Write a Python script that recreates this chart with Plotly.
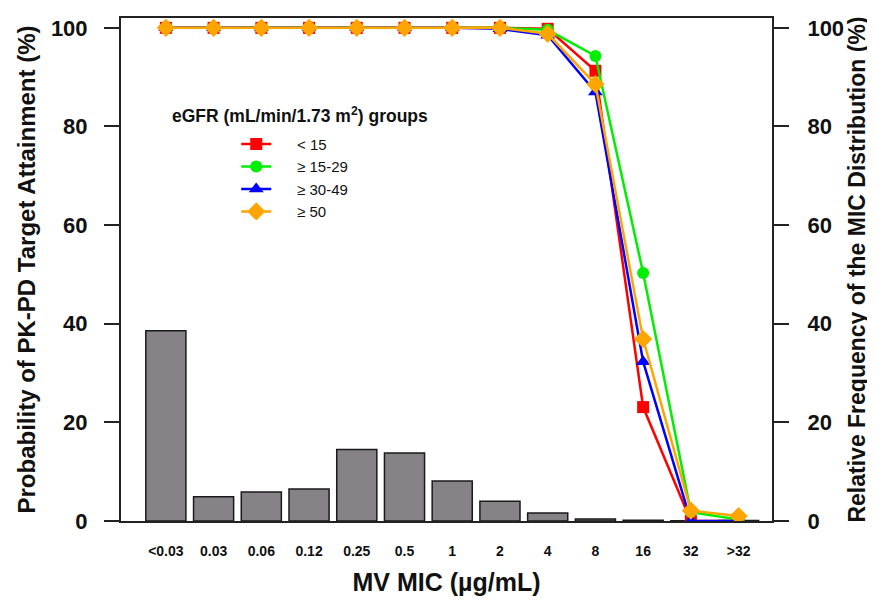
import plotly.graph_objects as go

# ---- data ----
mic_labels = ["<0.03", "0.03", "0.06", "0.12", "0.25", "0.5", "1", "2", "4", "8", "16", "32", ">32"]
mic_freq = [38.6, 4.9, 5.9, 6.5, 14.5, 13.8, 8.1, 4.0, 1.6, 0.4, 0.15, 0.05, 0.1]

group_names = ["< 15", "≥ 15-29", "≥ 30-49", "≥ 50"]
pta_lt15 = [100, 100, 100, 100, 100, 100, 100, 100, 99.8, 91.3, 23.1, 0.0, 0.0]
pta_15_29 = [100, 100, 100, 100, 100, 100, 100, 100, 99.6, 94.3, 50.3, 1.8, 0.3]
pta_30_49 = [100, 100, 100, 100, 100, 100, 100, 99.8, 98.5, 87.0, 32.3, 0.0, 0.0]
pta_ge50 = [100, 100, 100, 100, 100, 100, 100, 100, 98.8, 88.6, 36.9, 2.1, 1.0]

colors = ["#FF0000", "#00EE00", "#0000FF", "#FFA500"]
symbols = ["square", "circle", "triangle-up", "diamond"]
sizes = [12, 12, 13, 14]

FONT = "Liberation Sans, Arial, Helvetica, sans-serif"
INK = "#111"

fig = go.Figure()

# MIC distribution bars -> right axis (yaxis, drawn underneath)
fig.add_trace(go.Bar(
    x=mic_labels, y=mic_freq, width=0.84, yaxis="y",
    marker=dict(color="rgb(133,131,134)", line=dict(color="#1a1a1a", width=1.5)),
    showlegend=False, hoverinfo="skip",
))

# PTA lines -> left axis (yaxis2, drawn on top)
for name, vals, c, s, sz in zip(group_names, [pta_lt15, pta_15_29, pta_30_49, pta_ge50], colors, symbols, sizes):
    fig.add_trace(go.Scatter(
        x=mic_labels, y=vals, mode="lines+markers", yaxis="y2",
        name="\u00a0" * 5 + name,
        line=dict(color=c, width=2.5),
        marker=dict(symbol=s, size=sz, color=c, line=dict(width=0)),
    ))

fig.add_annotation(
    text="<b>eGFR (mL/min/1.73 m<sup>2</sup>) groups</b>",
    xref="paper", yref="paper", x=0.275, y=0.808, xanchor="center", yanchor="middle",
    showarrow=False, font=dict(family=FONT, size=17.5, color=INK),
)

ticks_common = dict(
    range=[0, 102], tickvals=[0, 20, 40, 60, 80, 100],
    showline=True, linecolor="#222", linewidth=2,
    ticks="outside", ticklen=15, tickwidth=2, tickcolor="#222",
    showgrid=False, zeroline=False,
    tickfont=dict(family=FONT, size=22, color=INK, weight="bold"),
)

fig.update_layout(
    width=867, height=593,
    margin=dict(l=113, r=103, t=8, b=80),
    paper_bgcolor="white", plot_bgcolor="white",
    font=dict(family=FONT, color=INK),
    legend=dict(
        x=0.177, y=0.782, xanchor="left", yanchor="top",
        bgcolor="rgba(0,0,0,0)", borderwidth=0,
        font=dict(family=FONT, size=15, color=INK),
        itemsizing="trace",
    ),
    xaxis=dict(
        type="category", range=[-0.94, 12.70],
        showline=True, linecolor="#222", linewidth=2, mirror=True,
        ticks="", showgrid=False, zeroline=False,
        tickfont=dict(family=FONT, size=14, color=INK, weight="bold"),
        ticklabelstandoff=16,
        title=dict(text="<b>MV MIC (µg/mL)</b>", font=dict(family=FONT, size=25, color=INK), standoff=16),
    ),
    yaxis=dict(
        side="right", anchor="x",
        ticklabelstandoff=14,
        title=dict(text="<b>Relative Frequency of the MIC Distribution (%)</b>",
                   font=dict(family=FONT, size=23, color=INK), standoff=4),
        **ticks_common,
    ),
    yaxis2=dict(
        overlaying="y", side="left", anchor="x",
        ticklabelstandoff=12,
        title=dict(text="<b>Probability of PK-PD Target Attainment (%)</b>",
                   font=dict(family=FONT, size=24, color=INK), standoff=8),
        **ticks_common,
    ),
)

fig.write_html("out.html")
